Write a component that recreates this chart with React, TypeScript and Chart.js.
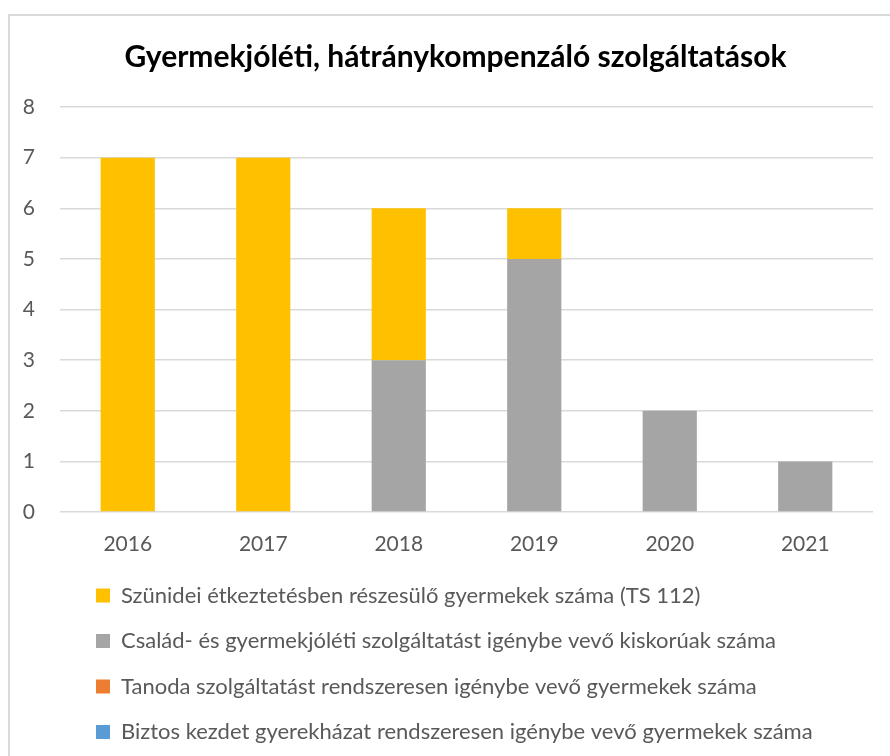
import React, { useEffect, useRef } from "react";
import { Chart, registerables } from "chart.js";

Chart.register(...registerables);

const TITLE = "Gyermekjóléti, hátránykompenzáló szolgáltatások";
const YEARS = ["2016", "2017", "2018", "2019", "2020", "2021"];
const SERIES_NAMES = [
  "Szünidei étkeztetésben részesülő gyermekek száma (TS 112)",
  "Család- és gyermekjóléti szolgáltatást igénybe vevő kiskorúak száma",
  "Tanoda szolgáltatást rendszeresen igénybe vevő gyermekek száma",
  "Biztos kezdet gyerekházat rendszeresen igénybe vevő gyermekek száma",
];
const SZUNIDEI = [7, 7, 3, 1, 0, 0];
const CSALAD = [0, 0, 3, 5, 2, 1];
const TANODA = [0, 0, 0, 0, 0, 0];
const BIZTOS = [0, 0, 0, 0, 0, 0];
const COLORS = ["#FFC000", "#A5A5A5", "#ED7D31", "#5B9BD5"];
const STACK_ORDER = [1, 0, 2, 3];
const Y_MIN = 0;
const Y_MAX = 8;
const Y_STEP = 1;

const FONT = "Lato, 'Open Sans', sans-serif";

const boxShift = {
  id: "boxShift",
  afterLayout(chart: any) {
    const lg = chart.legend;
    if (lg) {
      lg.left += 62.5;
      lg.right += 62.5;
    }
    const tt = chart.titleBlock;
    if (tt) {
      tt.left += 14;
      tt.right += 14;
    }
  },
};

export default function App() {
  const ref = useRef<HTMLCanvasElement | null>(null);
  useEffect(() => {
    document.documentElement.style.overflow = "hidden";
    const values = [SZUNIDEI, CSALAD, TANODA, BIZTOS];
    const chart = new Chart(ref.current as HTMLCanvasElement, {
      type: "bar",
      data: {
        labels: YEARS,
        datasets: SERIES_NAMES.map((name, i) => ({
          label: name,
          data: values[i],
          backgroundColor: COLORS[i],
          borderWidth: 0,
          order: STACK_ORDER[i],
          categoryPercentage: 1,
          barPercentage: 0.4,
        })),
      },
      options: {
        animation: false,
        responsive: false,
        maintainAspectRatio: false,
        layout: { padding: { left: 0, right: 29, top: 0, bottom: 33 } },
        plugins: {
          title: {
            display: true,
            text: TITLE,
            color: "#000000",
            font: { family: FONT, size: 30, weight: "bold" },
            padding: { top: 23, bottom: 32 },
          },
          legend: {
            position: "bottom",
            align: "start",
            labels: {
              sort: (a: any, b: any) => a.datasetIndex - b.datasetIndex,
              color: "#595959",
              font: { family: FONT, size: 22 },
              boxWidth: 14,
              boxHeight: 14,
              padding: 23.5,
            },
          },
          tooltip: { enabled: false },
        },
        scales: {
          x: {
            stacked: true,
            afterFit: (scale: any) => {
              scale.height = 49;
            },
            grid: { display: false, drawTicks: false },
            border: { display: false },
            ticks: {
              color: "#595959",
              font: { family: FONT, size: 21 },
              padding: 20,
            },
          },
          y: {
            stacked: true,
            min: Y_MIN,
            max: Y_MAX,
            afterFit: (scale: any) => {
              scale.width = 50;
            },
            grid: { color: "#D9D9D9", lineWidth: 1.5, drawTicks: false },
            border: { display: false },
            ticks: {
              stepSize: Y_STEP,
              color: "#595959",
              font: { family: FONT, size: 21 },
              padding: 25,
            },
          },
        },
      },
      plugins: [boxShift],
    });
    return () => chart.destroy();
  }, []);

  return (
    <div
      style={{
        position: "fixed",
        left: 8,
        top: 14,
        width: 892,
        height: 770,
        border: "2px solid #D9D9D9",
        background: "#fff",
      }}
    >
      <canvas ref={ref} width={892} height={770} style={{ display: "block" }} />
    </div>
  );
}
